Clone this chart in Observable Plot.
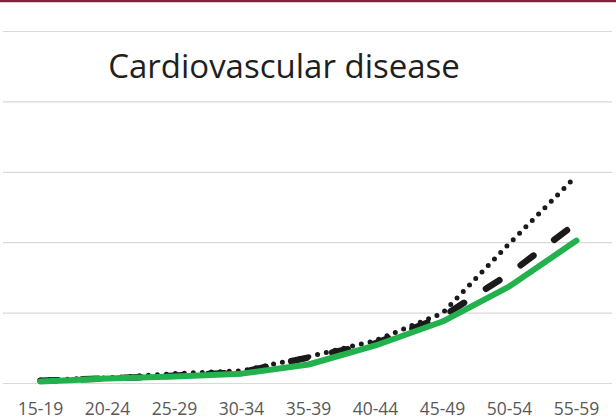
<!DOCTYPE html>
<html>
<head>
<meta charset="utf-8">
<script src="https://cdn.jsdelivr.net/npm/d3@7"></script>
<script src="https://cdn.jsdelivr.net/npm/@observablehq/plot@0.6"></script>
<style>
  html, body { margin: 0; padding: 0; background: #fff; }
  #wrap { position: relative; width: 616px; height: 419px; overflow: hidden; }
  #topbar { position: absolute; left: 0; top: 0; width: 616px; height: 2px; background: #8c1d3c; }
  #topbar2 { position: absolute; left: 0; top: 2px; width: 616px; height: 1px; background: #e3c9cf; }
</style>
</head>
<body>
<div id="wrap"><div id="chart"></div><div id="topbar"></div><div id="topbar2"></div></div>
<script>
const title = "Cardiovascular disease";
const ageGroups = ["15-19","20-24","25-29","30-34","35-39","40-44","45-49","50-54","55-59"];
const dottedValues = [0.05, 0.08, 0.14, 0.18, 0.38, 0.61, 1.00, 1.99, 2.95];
const dashedValues = [0.04, 0.07, 0.11, 0.16, 0.37, 0.57, 0.95, 1.56, 2.28];
const solidValues  = [0.03, 0.07, 0.10, 0.14, 0.27, 0.54, 0.88, 1.38, 2.03];
const gridValues = [0, 1, 2, 3, 4, 5];

const mk = (vals) => ageGroups.map((g, i) => ({group: g, value: vals[i]}));
const dotted = mk(dottedValues), dashed = mk(dashedValues), solid = mk(solidValues);

const chart = Plot.plot({
  width: 616,
  height: 419,
  marginTop: 31,
  marginBottom: 36,
  marginLeft: 3,
  marginRight: 4,
  style: {fontFamily: "'Open Sans', sans-serif", background: "#fff"},
  x: {type: "point", domain: ageGroups, padding: 0.5, label: null},
  y: {domain: [0, 5], axis: null},
  marks: [
    Plot.ruleY(gridValues, {stroke: "#d9d9d9", strokeWidth: 1.2}),
    Plot.axisX({tickSize: 0, tickPadding: 19, fontSize: 17.5, fill: "#595959", label: null, color: "#595959"}),
    Plot.line(dashed, {x: "group", y: "value", stroke: "#1a1a1a", strokeWidth: 6.5, strokeDasharray: "16,26", strokeLinecap: "round"}),
    Plot.line(dotted, {x: "group", y: "value", stroke: "#1a1a1a", strokeWidth: 5, strokeDasharray: "0,9", strokeLinecap: "round"}),
    Plot.line(solid, {x: "group", y: "value", stroke: "#22b14c", strokeWidth: 6, strokeLinecap: "round", strokeLinejoin: "round"}),
    Plot.text([title], {frameAnchor: "top", dy: 23, dx: -24, text: d => d, fontSize: 33, fill: "#1f1f1f", fontFamily: "'Open Sans', sans-serif"})
  ]
});
document.getElementById("chart").appendChild(chart);
</script>
</body>
</html>
